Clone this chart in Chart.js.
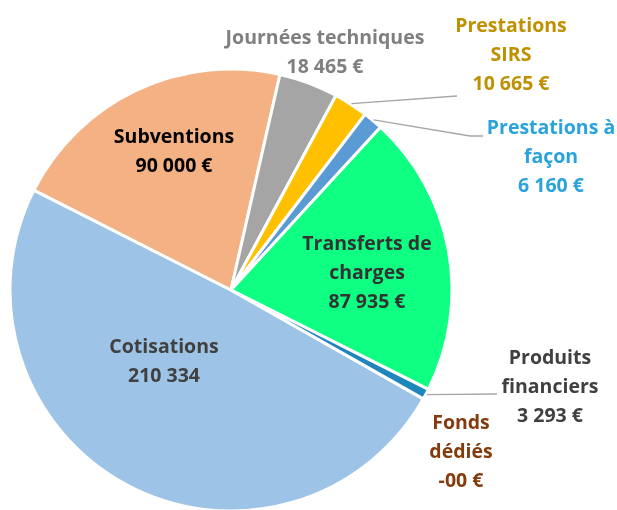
<!DOCTYPE html>
<html>
<head>
<meta charset="utf-8">
<script src="https://cdn.jsdelivr.net/npm/chart.js@4.4.1/dist/chart.umd.min.js"></script>
<style>
    html, body { margin: 0; padding: 0; background: #fff; }
    #wrap { width: 617px; height: 510px; position: relative; }
</style>
</head>
<body>
<div id="wrap"><canvas id="pieChart"></canvas></div>
<script>
// Data
const categories = ['Cotisations', 'Subventions', 'Journées techniques', 'Prestations SIRS',
    'Prestations à façon', 'Transferts de charges', 'Produits financiers', 'Fonds dédiés'];
const amounts = [210334, 90000, 18465, 10665, 6160, 87935, 3293, 0];
const valueLabels = ['210 334', '90 000 €', '18 465 €', '10 665 €', '6 160 €', '87 935 €', '3 293 €', '-00 €'];
const nameLines = [['Cotisations'], ['Subventions'], ['Journées techniques'], ['Prestations', 'SIRS'],
    ['Prestations à', 'façon'], ['Transferts de', 'charges'], ['Produits', 'financiers'], ['Fonds', 'dédiés']];

const sliceColors = ['#9DC3E6', '#F4B183', '#A5A5A5', '#FFC000', '#5B9BD5', '#0FFF82', '#1F86BD', '#843C0C'];
const textColors = ['#404040', '#000000', '#7F7F7F', '#BF9000', '#2AA3DC', '#333333', '#404040', '#843C0C'];

// label layout: centre x, top line y
const labelPos = [
    { x: 164, y: 347 },
    { x: 174, y: 137 },
    { x: 325, y: 38 },
    { x: 511, y: 26 },
    { x: 551, y: 128 },
    { x: 367, y: 244 },
    { x: 550, y: 358 },
    { x: 461, y: 423 }
];
// leader lines: elbow and end point (start is taken from the slice edge)
const leaders = {
    3: [{ x: 457, y: 96 }],
    4: [{ x: 470, y: 136 }, { x: 483, y: 136 }],
    6: [{ x: 497, y: 394 }]
};

const LINE_H = 29;

const labelPlugin = {
    id: 'sliceLabels',
    afterDatasetsDraw(chart) {
        const ctx = chart.ctx;
        const meta = chart.getDatasetMeta(0);
        ctx.save();

        // leader lines
        ctx.strokeStyle = '#A6A6A6';
        ctx.lineWidth = 1.3;
        Object.keys(leaders).forEach(k => {
            const arc = meta.data[k];
            const mid = (arc.startAngle + arc.endAngle) / 2;
            const sx = arc.x + Math.cos(mid) * (arc.outerRadius + 1);
            const sy = arc.y + Math.sin(mid) * (arc.outerRadius + 1);
            ctx.beginPath();
            ctx.moveTo(sx, sy);
            leaders[k].forEach(p => ctx.lineTo(p.x, p.y));
            ctx.stroke();
        });

        ctx.font = 'bold 19.5px "Open Sans", sans-serif';
        ctx.textAlign = 'center';
        ctx.textBaseline = 'middle';
        categories.forEach((c, i) => {
            const lines = nameLines[i].concat([valueLabels[i]]);
            ctx.fillStyle = textColors[i];
            lines.forEach((t, j) => {
                ctx.fillText(t, labelPos[i].x, labelPos[i].y + j * LINE_H);
            });
        });
        ctx.restore();
    }
};

function init() {
    const ctx = document.getElementById('pieChart').getContext('2d');
    new Chart(ctx, {
        type: 'pie',
        data: {
            labels: categories,
            datasets: [{
                data: amounts,
                backgroundColor: sliceColors,
                borderColor: '#ffffff',
                borderWidth: 3
            }]
        },
        options: {
            responsive: true,
            maintainAspectRatio: false,
            animation: false,
            rotation: 119.5,
            radius: 221,
            layout: { padding: { left: 7, right: 162, top: 70, bottom: 0 } },
            plugins: {
                legend: { display: false },
                tooltip: { enabled: false }
            }
        },
        plugins: [labelPlugin]
    });
}

document.addEventListener('DOMContentLoaded', init);
</script>
</body>
</html>
